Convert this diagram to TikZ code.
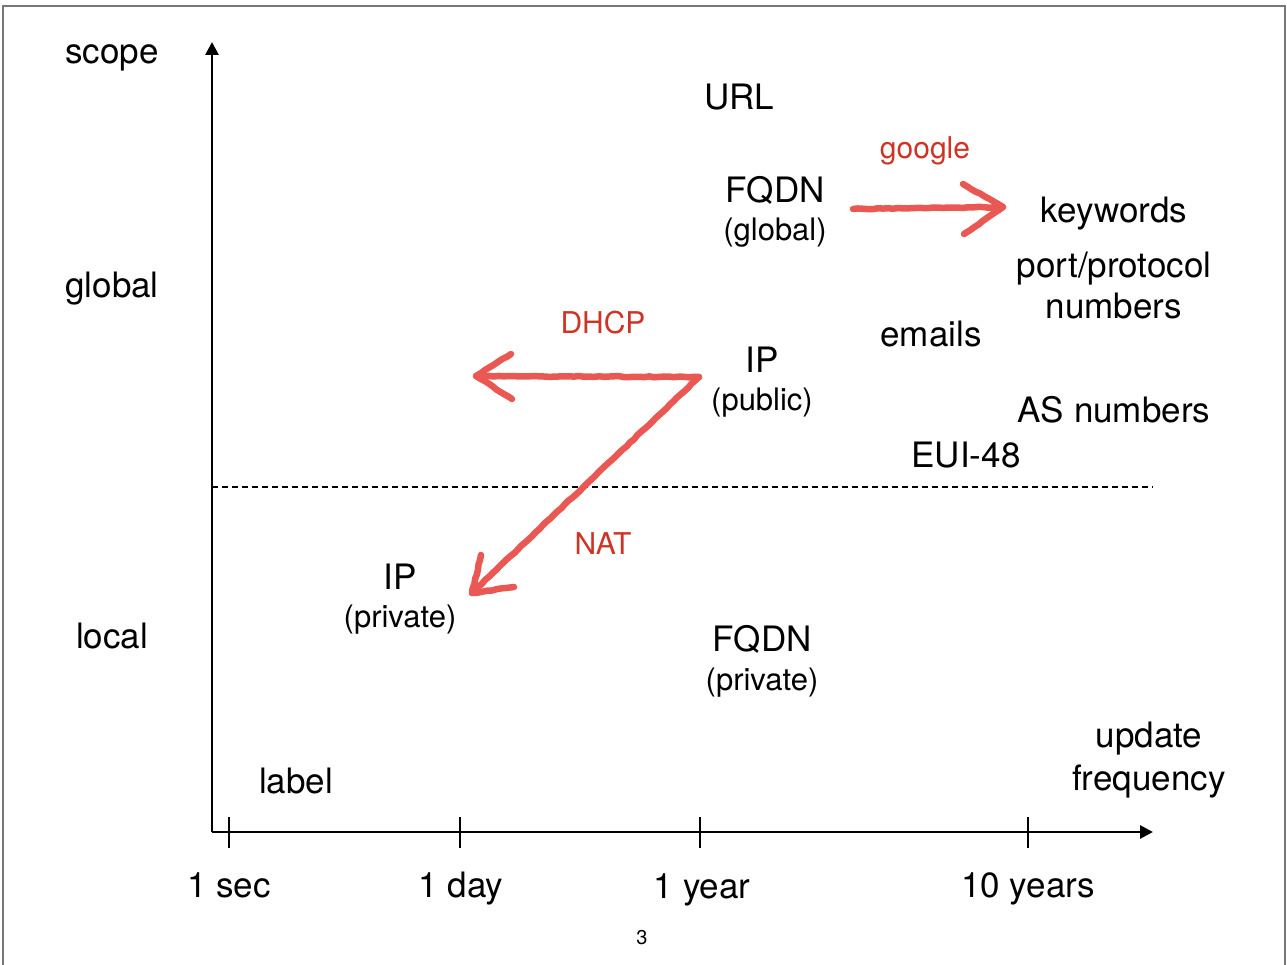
\documentclass[tikz,border=0pt]{standalone}
\usepackage{fontspec}
\setmainfont{TeX Gyre Heros}
\usetikzlibrary{arrows.meta,decorations.pathmorphing}
\definecolor{marker}{RGB}{234,88,84}
\definecolor{tagred}{RGB}{206,52,36}
\definecolor{framegray}{RGB}{120,120,120}
\tikzset{
  big/.style={font=\fontsize{35}{40}\selectfont, inner sep=0pt, anchor=base},
  small/.style={font=\fontsize{31}{36}\selectfont, inner sep=0pt, anchor=base},
  tag/.style={font=\fontsize{30}{36}\selectfont, text=tagred, inner sep=0pt, anchor=base},
  axis/.style={line width=2.8pt, -{Triangle[length=13pt,width=13pt]}},
  tick/.style={line width=2.4pt},
  stroke/.style={draw=marker, line width=6.5pt, line cap=round, line join=round,
    decorate, decoration={random steps, segment length=5pt, amplitude=0.5pt}},
}
\begin{document}
\begin{tikzpicture}[x=1pt,y=-1pt]
\useasboundingbox (0,0) rectangle (1287,965);
\begin{scope}
  \clip (0,0) rectangle (1287,965);
  \draw[framegray, line width=1.5pt] (3,980) -- (3,6) -- (1285,6) -- (1285,980);
\end{scope}

% axes
\coordinate (origin) at (212,832);
\coordinate (ytip) at (212,42);
\coordinate (xtip) at (1153,832);
\draw[axis] (origin) -- (ytip);
\draw[axis] (origin) -- (xtip);

% ticks on the time axis
\foreach \n/\x in {sec/229, day/460, year/700, decade/1028}{
  \coordinate (t-\n) at (\x,832);
  \draw[tick] ([yshift=-16pt]t-\n) -- ([yshift=15pt]t-\n);
}

% dividing line between global and local scope
\coordinate (divL) at (212,487);
\coordinate (divR) at (1153,487);
\draw[line width=2pt, dash pattern=on 6pt off 4pt] (divL) -- (divR);

% axis labels
\node[big] (lscope)  at (112,64)  {scope};
\node[big] (lglobal) at (112,298) {global};
\node[big] (llocal)  at (112,648) {local};
\node[big] (lsec)    at (229,897) {1 sec};
\node[big] (lday)    at (461,897) {1 day};
\node[big] (lyear)   at (702,898) {1 year};
\node[big] (ldecade) at (1028,897) {10 years};
\node[big] (lupd1)   at (1149,747) {update};
\node[big] (lupd2)   at (1149,790) {frequency};
\node[font=\fontsize{20}{24}\selectfont, inner sep=0pt, anchor=base] (page) at (642,944) {3};

% identifiers
\node[big] (label)   at (296,793)  {label};
\node[big] (url)     at (739,110)  {URL};
\node[big] (fqdng)   at (775,203)  {FQDN};
\node[small] (fqdngs) at (775,241) {(global)};
\node[big] (kw)      at (1114,223) {keywords};
\node[big] (port)    at (1114,278) {port/protocol};
\node[big] (portn)   at (1114,319) {numbers};
\node[big] (emails)  at (931,346)  {emails};
\node[big] (asn)     at (1114,422) {AS numbers};
\node[big] (eui)     at (966,467)  {EUI-48};
\node[big] (ippub)   at (762,372)  {IP};
\node[small] (ippubs) at (762,410) {(public)};
\node[big] (ippriv)  at (400,589)  {IP};
\node[small] (ipprivs) at (400,627) {(private)};
\node[big] (fqdnp)   at (762,651)  {FQDN};
\node[small] (fqdnps) at (762,690) {(private)};

% mappings between identifiers
\node[tag] (google) at (925,159) {google};
\node[tag] (dhcp)   at (603,334) {DHCP};
\node[tag] (nat)    at (603,554) {NAT};

\coordinate (gstart) at (853,209);
\coordinate (gtip)   at (1003,207);
\draw[stroke] (gstart) -- (gtip);
\draw[stroke] (963,184) -- (gtip) -- (964,234);

\coordinate (pubcorner) at (699,377);
\coordinate (dtip) at (476,376);
\draw[stroke] (pubcorner) -- (dtip);
\draw[stroke] (511,354) -- (dtip) -- (512,399);

\coordinate (ntip) at (472,593);
\draw[stroke] (pubcorner) -- (ntip);
\draw[stroke] (481,555) -- (ntip) -- (514,587);
\end{tikzpicture}
\end{document}
